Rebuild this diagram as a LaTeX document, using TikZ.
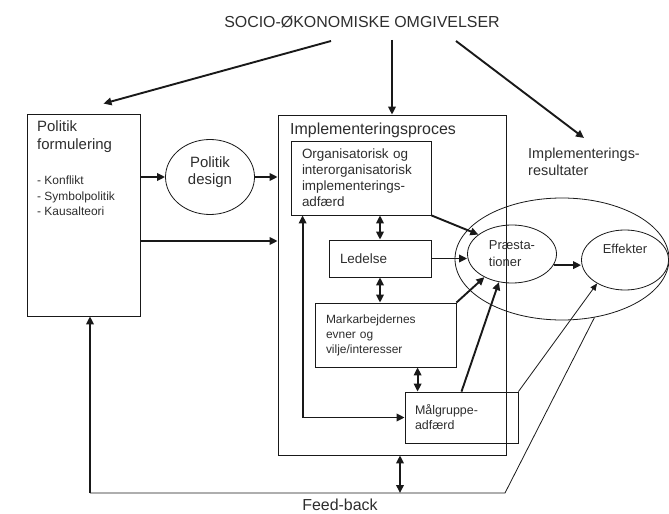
\documentclass[tikz,border=0pt]{standalone}
\usepackage{fontspec}
\setmainfont{Liberation Sans}
\usetikzlibrary{shapes.geometric, arrows.meta, positioning, calc}
\definecolor{textgray}{RGB}{45, 45, 45}
\definecolor{linegray}{RGB}{25, 25, 25}
\newcommand{\setfs}[2]{\fontsize{#1}{#2}\selectfont}

\begin{document}
\begin{tikzpicture}[
    x=1bp, y=-1bp,
    box_node/.style={draw=linegray, line width=0.8bp, rectangle, inner ysep=0pt, text=textgray, align=left},
    oval_node/.style={draw=linegray, line width=0.8bp, ellipse, inner sep=0pt, text=textgray, align=left},
    label_node/.style={text=textgray, inner sep=2bp, align=left},
    arrow/.style={-{Triangle[length=8bp,width=7.5bp]}, line width=1.9bp, linegray},
    dbl_arrow/.style={{Triangle[length=8bp,width=7.5bp]}-{Triangle[length=8bp,width=7.5bp]}, line width=1.9bp, linegray},
    thin_arrow/.style={-{Triangle[length=7bp,width=6bp]}, line width=0.8bp, linegray},
    thin_line/.style={line width=0.8bp, linegray}
]
    \useasboundingbox (0,0) rectangle (669,514);

    % Title
    \node[label_node, font=\setfs{16}{19}] (title) at (362,22) {SOCIO-ØKONOMISKE OMGIVELSER};

    % Policy formulation
    \node[box_node, minimum width=113bp, minimum height=202bp] (formbox) at (83.5,215) {};
    \node[label_node, font=\setfs{15}{19}, anchor=north west] (formtitle) at (35,118) {Politik\\formulering};
    \node[label_node, font=\setfs{12}{15.5}, anchor=north west] (formlist) at (35,174) {- Konflikt\\- Symbolpolitik\\- Kausalteori};
    \node[oval_node, align=center, minimum width=89bp, minimum height=75bp, text depth=12bp, font=\setfs{15}{17}] (design) at (210,177) {Politik\\design};

    % Implementation process
    \node[box_node, minimum width=228bp, minimum height=340bp] (implbox) at (392,285) {};
    \node[label_node, font=\setfs{16}{19}, anchor=north west] (impllabel) at (288,121) {Implementeringsproces};
    \node[box_node, minimum width=140bp, minimum height=74bp, inner xsep=11bp, text width=118bp, font=\setfs{13.5}{16}] (orgbox) at (361,178) {Organisatorisk og\\interorganisatorisk\\implementerings-\\adfærd};
    \node[box_node, minimum width=102bp, minimum height=37bp, inner xsep=11bp, text width=80bp, font=\setfs{13.5}{16}] (ledbox) at (380,258.5) {Ledelse};
    \node[box_node, minimum width=141bp, minimum height=64bp, inner xsep=11bp, text width=119bp, font=\setfs{12}{15}] (markbox) at (385.5,335) {Markarbejdernes\\evner og\\vilje/interesser};
    \node[box_node, minimum width=113bp, minimum height=51bp, inner xsep=10bp, text width=93bp, font=\setfs{12.5}{15}] (maalbox) at (461.5,417.5) {Målgruppe-\\adfærd};

    % Results
    \node[oval_node, minimum width=214bp, minimum height=122bp] (results) at (562,259) {};
    \node[oval_node, minimum width=89bp, minimum height=58bp, font=\setfs{13}{17}] (praes) at (512,254) {Præsta-\\tioner};
    \node[oval_node, minimum width=87bp, minimum height=60bp, text depth=22bp, font=\setfs{13}{16}] (effekt) at (625,260) {Effekter};
    \node[label_node, font=\setfs{14.5}{17}, anchor=north west] (implres) at (526,146) {Implementerings-\\resultater};

    % Feedback
    \node[label_node, font=\setfs{16}{19}] (feedback) at (340,505) {Feed-back};
    \coordinate (fb_corner) at (505,493);

    % Arrows from the surroundings
    \coordinate (t_left) at (331,41);
    \coordinate (t_mid) at (392,40);
    \coordinate (t_right) at (456,41);
    \draw[arrow] (t_left) -- ([xshift=20bp,yshift=10bp]formbox.north);
    \draw[arrow] (t_mid) -- (implbox.north);
    \draw[arrow] (t_right) -- ([yshift=8bp]implres.north);

    % Policy arrows
    \coordinate (f2) at ([yshift=-26bp]formbox.east);
    \draw[arrow] (formbox.east |- design) -- (design.west);
    \draw[arrow] (design.east) -- (design.east -| implbox.west);
    \draw[arrow] (f2) -- (f2 -| implbox.west);

    % Inside the process
    \coordinate (mm) at ([xshift=13bp]maalbox.north west);
    \draw[dbl_arrow] (orgbox.south -| ledbox.north) -- (ledbox.north);
    \draw[dbl_arrow] (ledbox.south) -- (ledbox.south |- markbox.north);
    \draw[dbl_arrow] (mm |- markbox.south) -- (mm);
    \draw[dbl_arrow] ([xshift=12bp]orgbox.south west) |- (maalbox.west);

    % Towards the results
    \draw[arrow] (orgbox.south east) -- (praes.150);
    \draw[arrow] (ledbox.east) -- (ledbox.east -| praes.west);
    \draw[arrow] (markbox.north east) -- (praes.220);
    \draw[arrow] (maalbox.north) -- (praes.245);
    \draw[thin_arrow] (maalbox.north east) -- (effekt.220);
    \draw[arrow] (praes.345) -- (praes.345 -| effekt.west);

    % Feedback loop
    \coordinate (ib) at ([xshift=8bp]implbox.south);
    \coordinate (fs) at ([xshift=6.5bp]formbox.south);
    \draw[dbl_arrow] (ib) -- (ib |- fb_corner);
    \draw[thin_line] (results.299) -- (fb_corner) -- (fs |- fb_corner);
    \draw[arrow] (fs |- fb_corner) -- (fs);
\end{tikzpicture}
\end{document}
